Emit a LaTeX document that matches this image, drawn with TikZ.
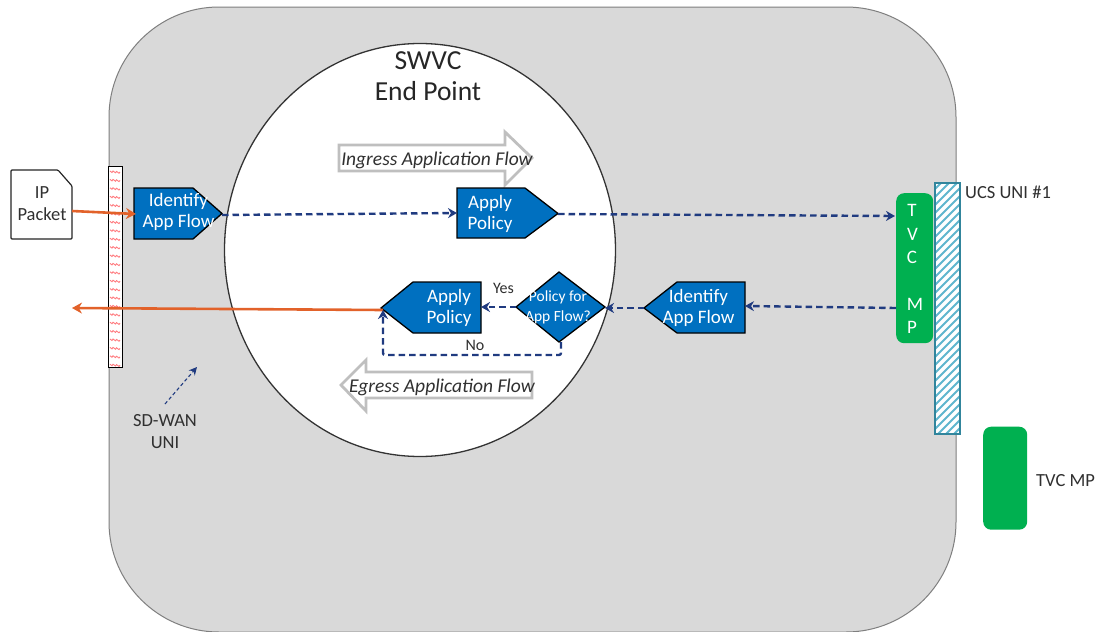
\documentclass[tikz,border=0pt]{standalone}
\usepackage{fontspec}
\setmainfont{Carlito}
\usetikzlibrary{arrows.meta}
\definecolor{bodygrey}{HTML}{D9D9D9}
\definecolor{edgegrey}{HTML}{7F7F7F}
\definecolor{flowblue}{HTML}{0070C0}
\definecolor{navy}{HTML}{203B80}
\definecolor{orangeln}{HTML}{E2622A}
\definecolor{tvcgreen}{HTML}{00B050}
\definecolor{hatchblue}{HTML}{31859C}
\definecolor{hatchlight}{HTML}{5FB6CE}
\definecolor{wavepink}{HTML}{FF7C80}
\definecolor{textgrey}{HTML}{303030}
\tikzset{
  x=1pt,y=-1pt,
  flowshape/.style={fill=flowblue,draw=black,line width=1.3pt,line join=miter},
  flowtext/.style={text=white,align=center,inner sep=0pt,font=\fontsize{19}{21.5}\selectfont},
  smalltext/.style={text=white,align=center,inner sep=0pt,font=\fontsize{15.5}{20}\selectfont},
  plaintext/.style={text=textgrey,align=center,inner sep=0pt,font=\fontsize{18.5}{22}\selectfont},
  hollowarrow/.style={fill=white,draw=black!25,line width=2.8pt,line join=miter},
  flowlabel/.style={text=textgrey,inner sep=0pt,font=\itshape\fontsize{19.5}{22}\selectfont},
  dashline/.style={draw=navy,line width=2.4pt,dash pattern=on 6.5pt off 4pt,-{Stealth[length=9pt,width=10pt]}},
  orangeline/.style={draw=orangeln,line width=2.6pt,-{Stealth[length=10pt,width=11pt]}},
  tvcbox/.style={fill=tvcgreen,rounded corners=8pt},
  tvcletter/.style={text=white,inner sep=0pt,font=\fontsize{19}{22}\selectfont},
}
\begin{document}
\begin{tikzpicture}
\useasboundingbox (0,0) rectangle (1101,632);
\clip (0,0) rectangle (1101,632);
\fill[white] (0,0) rectangle (1101,632);
% body
\draw[fill=bodygrey,draw=edgegrey,line width=1pt,rounded corners=110pt] (109,7) rectangle (956,632);
% circle
\draw[fill=white,draw=black!80,line width=1.3pt] (420,250) ellipse [x radius=195.5,y radius=206.5];
\node[text=black!85,align=center,inner sep=0pt,font=\fontsize{27.5}{31.5}\selectfont] (title) at (428,76) {SWVC\\End Point};
% hollow arrows
\draw[hollowarrow] (339,145) -- (505,145) -- (505,132) -- (532,158) -- (505,185) -- (505,171) -- (339,171) -- cycle;
\node[flowlabel] (ingress) at (437,160) {Ingress Application Flow};
\draw[hollowarrow] (532,372) -- (366,372) -- (366,360) -- (341,385) -- (366,411) -- (366,398) -- (532,398) -- cycle;
\node[flowlabel] (egress) at (442,387) {Egress Application Flow};
% IP packet
\draw[fill=white,draw=black!85,line width=1.2pt,rounded corners=1pt] (11,170) -- (58,170) -- (72,186) -- (72,239) -- (11,239) -- cycle;
\node[plaintext] (ip) at (42,204) {IP\\Packet};
% SD-WAN bar
\fill[white] (108,166) rectangle (122,367);
\foreach \yy in {171,179.4,...,365}{
  \draw[wavepink,line width=.9pt] (110,\yy) -- (112,\yy+1.5) -- (113,\yy) -- (115.5,\yy+1.8) -- (116.5,\yy+.4) -- (119,\yy+2.2) -- (120,\yy+1);
}
\draw[black,line width=1pt] (108,166) rectangle (122,367);
\coordinate (barup) at (115,212);
% Identify (ingress)
\draw[flowshape] (134,188) -- (193,188) -- (222,213.5) -- (193,239) -- (134,239) -- cycle;
\node[flowtext] (idin) at (178.5,212) {Identify\\App Flow};
\coordinate (idintip) at (222,215);
\coordinate (idinleft) at (136,214);
% Apply (ingress)
\draw[flowshape] (457,188) -- (525,188) -- (558,213.5) -- (525,238) -- (457,238) -- cycle;
\node[flowtext] (apin) at (490,214) {Apply\\Policy};
\coordinate (apinleft) at (457,213);
\coordinate (apintip) at (558,214);
% Apply (egress)
\draw[flowshape] (381,308) -- (413,282) -- (481,282) -- (481,333) -- (413,333) -- cycle;
\node[flowtext] (apout) at (449,308) {Apply\\Policy};
\coordinate (apoutright) at (481,307);
\coordinate (apouttip) at (383,310);
% decision
\draw[flowshape] (516,307) -- (559,272) -- (605,307) -- (559,342) -- cycle;
\node[smalltext] (dec) at (558,307) {Policy for\\App Flow?};
\coordinate (decleft) at (516,307);
\coordinate (decright) at (605,308);
\coordinate (decbot) at (561,342);
% Identify (egress)
\draw[flowshape] (644,308) -- (677,282) -- (745,282) -- (745,333) -- (677,333) -- cycle;
\node[flowtext] (idout) at (698.5,308) {Identify\\App Flow};
\coordinate (idouttip) at (644,308);
\coordinate (idoutright) at (745,306);
% labels
\node[text=textgrey,inner sep=0pt,font=\fontsize{16}{17}\selectfont] (yes) at (503.5,288) {Yes};
\node[text=textgrey,inner sep=0pt,font=\fontsize{16}{17}\selectfont] (no) at (475,345) {No};
% TVC MP
\node[tvcbox,minimum width=37pt,minimum height=150pt,inner sep=0pt,anchor=north west] (tvc) at (896,193) {};
\foreach \ll/\xx/\yy in {T/912/210,V/912.5/234,C/912/257,M/915/304,P/912/327}{
  \node[tvcletter] at (\xx,\yy) {\ll};
}
\coordinate (tvcin) at (895,216);
\coordinate (tvcout) at (896,308);
% UCS bar
\fill[white] (935,183) rectangle (960,434);
\begin{scope}
\clip (935,183) rectangle (960,434);
\foreach \k in {183,191,...,470}{
  \draw[hatchlight,line width=2pt] (933,\k) -- (963,\k-30);
}
\end{scope}
\draw[hatchblue,line width=2pt] (935,183) rectangle (960,434);
\node[plaintext,anchor=west] (ucs) at (965,192) {UCS UNI \#1};
% legend
\node[tvcbox,minimum width=44pt,minimum height=103pt,inner sep=0pt,anchor=north west] (legend) at (983,426.5) {};
\node[plaintext,anchor=west] (legendt) at (1036,480.5) {TVC MP};
% SD-WAN label
\node[plaintext] (sdwan) at (165,432) {SD-WAN\\UNI};
\coordinate (sdtail) at (165,404);
\coordinate (sdhead) at (197,367);
% connectors
\draw[orangeline] (72,211) -- (idinleft);
\draw[orangeline] (apouttip) -- (72,308);
\draw[dashline] (idintip) -- (apinleft);
\draw[dashline] (apintip) -- (tvcin);
\draw[dashline] (tvcout) -- (idoutright);
\draw[dashline] (idouttip) -- (decright);
\draw[dashline] (decleft) -- (apoutright);
\draw[dashline,rounded corners=2pt] (decbot) -- (561,355) -- (383,355) -- (apouttip);
\draw[draw=navy,line width=1.1pt,dash pattern=on 3.5pt off 2.5pt,-{Stealth[length=8pt,width=8pt]}] (sdtail) -- (sdhead);
\end{tikzpicture}
\end{document}
